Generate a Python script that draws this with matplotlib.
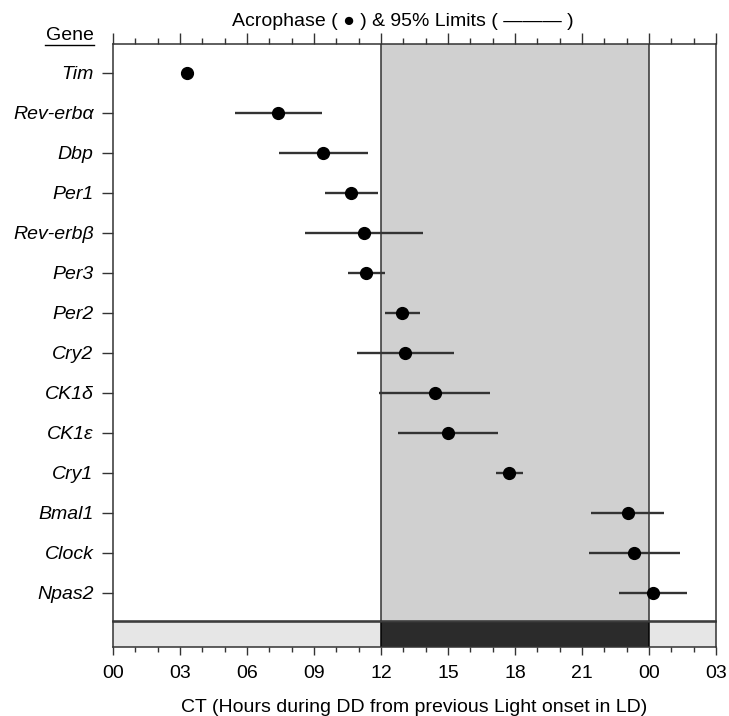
import matplotlib
matplotlib.use("Agg")
import matplotlib.pyplot as plt
from matplotlib.lines import Line2D

plt.rcParams['font.family'] = ['Liberation Sans', 'DejaVu Sans']

# data (CT hours, 24+ = next day)
genes = ["Tim", "Rev-erbα", "Dbp", "Per1", "Rev-erbβ", "Per3", "Per2",
         "Cry2", "CK1δ", "CK1ε", "Cry1", "Bmal1", "Clock", "Npas2"]
acrophase = [3.31, 7.39, 9.40, 10.66, 11.24, 11.33, 12.96,
             13.08, 14.44, 14.98, 17.74, 23.04, 23.34, 24.17]
lower = [3.31, 5.46, 7.43, 9.49, 8.60, 10.52, 12.19,
         10.93, 11.93, 12.77, 17.14, 21.40, 21.32, 22.65]
upper = [3.31, 9.36, 11.42, 11.87, 13.88, 12.18, 13.73,
         15.27, 16.90, 17.22, 18.34, 24.69, 25.41, 25.69]
tick_pos = [0, 3, 6, 9, 12, 15, 18, 21, 24, 27]
tick_lab = ["00", "03", "06", "09", "12", "15", "18", "21", "00", "03"]

fig = plt.figure(figsize=(7.29, 7.16), dpi=100)
W, H = 729, 716
ax = fig.add_axes([113 / W, (H - 621) / H, 603 / W, 577 / H])
axb = fig.add_axes([113 / W, (H - 647) / H, 603 / W, 25 / H], sharex=ax)

edge = "#333333"

# main panel
ax.axvspan(12, 24, color="#d0d0d0", lw=0, zorder=0)
ax.axvline(12, color=edge, lw=1.1, zorder=1)
ax.axvline(24, color=edge, lw=1.1, zorder=1)
ypos = list(range(len(genes)))
ax.hlines(ypos, lower, upper, color="#333333", lw=1.7, zorder=2)
ax.plot(acrophase, ypos, "o", color="black", ms=8.5, zorder=3)
ax.set_ylim(13.7, -0.72)
ax.set_xlim(0, 27)
ax.set_yticks(ypos)
ax.set_yticklabels(genes, fontsize=14, style="italic")
ax.tick_params(axis="y", length=8, width=1, color=edge, pad=6)
ax.xaxis.set_ticks_position("top")
ax.set_xticks(tick_pos)
ax.set_xticks(range(28), minor=True)
ax.tick_params(axis="x", which="major", length=8, width=1, color=edge, labeltop=False)
ax.tick_params(axis="x", which="minor", length=4, width=1, color=edge)
for s in ax.spines.values():
    s.set_color(edge)
    s.set_linewidth(1.1)

# light/dark bar
axb.axvspan(0, 12, color="#e6e6e6", lw=0)
axb.axvspan(12, 24, color="#2b2b2b", lw=0)
axb.axvspan(24, 27, color="#e6e6e6", lw=0)
axb.axvline(12, color="black", lw=1.1)
axb.axvline(24, color="black", lw=1.1)
axb.set_ylim(0, 1)
axb.set_yticks([])
axb.set_xticks(tick_pos)
axb.set_xticklabels(tick_lab, fontsize=14)
axb.set_xticks(range(28), minor=True)
axb.tick_params(axis="x", which="major", length=6, width=1, color=edge, pad=7)
axb.tick_params(axis="x", which="minor", length=3.5, width=1, color=edge)
for s in axb.spines.values():
    s.set_color(edge)
    s.set_linewidth(1.1)
axb.set_xlabel("CT (Hours during DD from previous Light onset in LD)", fontsize=14, labelpad=12)

# header texts
fig.text(403 / W, 1 - 21 / H, "Acrophase ( ● ) & 95% Limits ( ——— )",
         ha="center", va="center", fontsize=14)
fig.text(94 / W, 1 - 36 / H, "Gene", ha="right", va="center", fontsize=14)
fig.add_artist(Line2D([45 / W, 94 / W], [1 - 45 / H, 1 - 45 / H], color="black", lw=1))

fig.savefig("out.png", dpi=100)
